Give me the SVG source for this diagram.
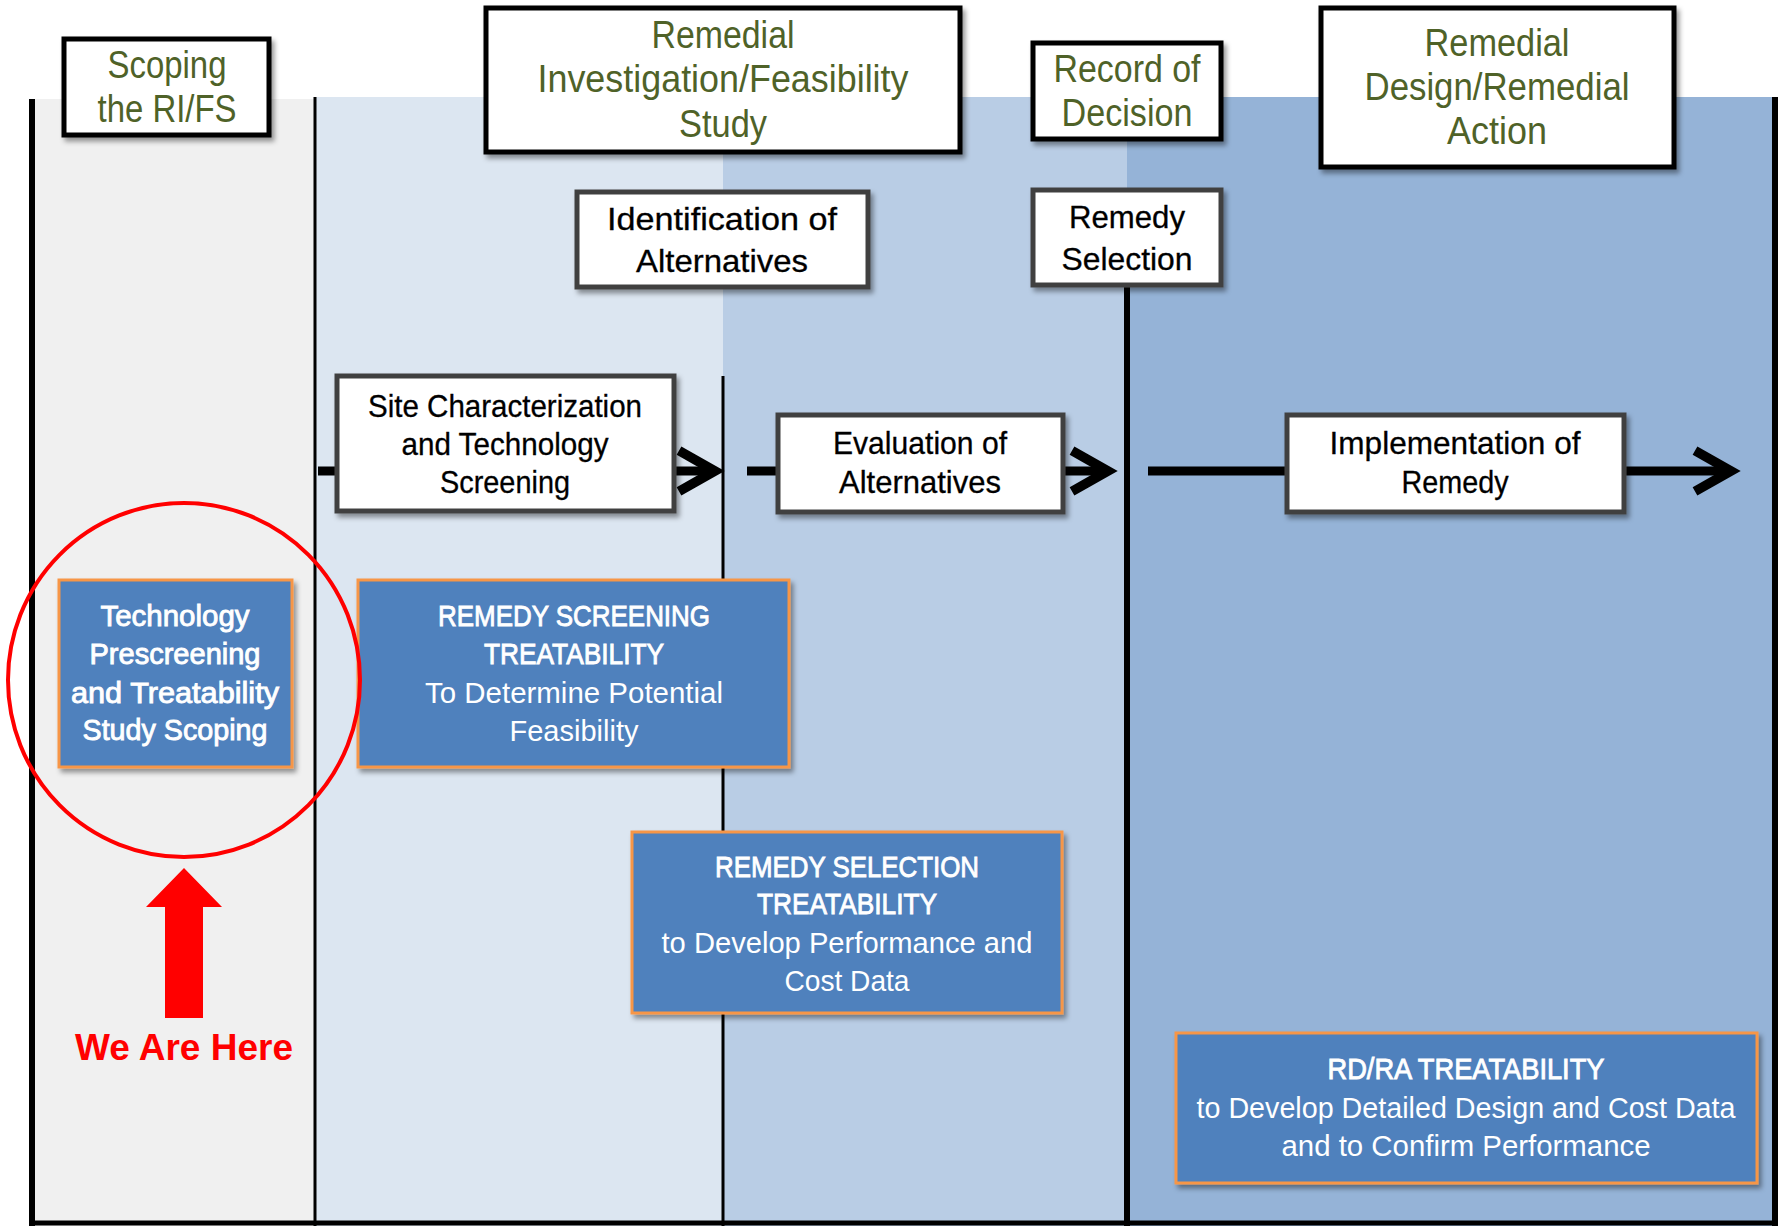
<svg xmlns="http://www.w3.org/2000/svg" width="1785" height="1226" viewBox="0 0 1785 1226">
<defs>
<filter id="sh" x="-10%" y="-10%" width="130%" height="130%">
<feDropShadow dx="3" dy="4" stdDeviation="2.5" flood-color="#000" flood-opacity="0.4"/>
</filter>
<marker id="chev" markerUnits="userSpaceOnUse" markerWidth="60" markerHeight="60" refX="0" refY="0" orient="auto" viewBox="-40 -25 50 50" overflow="visible">
<path d="M -30 -17 L 0 0 L -30 17" fill="none" stroke="#000" stroke-width="8" stroke-linejoin="miter"/>
</marker>
<style>
text{font-family:"Liberation Sans Narrow","Liberation Sans",Arial,sans-serif;text-anchor:middle}
.hdr rect{fill:#fff;stroke:#000;stroke-width:5}
.hdr text{fill:#4f6228;font-size:38px}
.stp rect{fill:#fff;stroke:#404040;stroke-width:5}
.stp text{fill:#000;font-size:32px;stroke:#000;stroke-width:0.3}
.tb rect{fill:#4f81bd;stroke:#f79646;stroke-width:3}
.tb text{fill:#fff;font-size:30px}
.tb .h{stroke:#fff;stroke-width:0.9}
.vl{stroke:#000;fill:none}
.ar{stroke:#000;stroke-width:9;fill:none}
</style>
</defs>

<g id="background">
<rect x="32" y="99" width="283" height="1127" fill="#f0f0f0"/>
<rect x="315" y="97" width="408" height="1129" fill="#dce6f1"/>
<rect x="723" y="97" width="404" height="1129" fill="#b9cde5"/>
<rect x="1127" y="97" width="648" height="1129" fill="#95b3d7"/>
<line class="vl" x1="32" y1="99" x2="32" y2="1226" stroke-width="6"/>
<line class="vl" x1="315" y1="97" x2="315" y2="1226" stroke-width="3"/>
<line class="vl" x1="723" y1="376" x2="723" y2="1226" stroke-width="3"/>
<line class="vl" x1="1127" y1="287" x2="1127" y2="1226" stroke-width="6"/>
<line class="vl" x1="1775" y1="97" x2="1775" y2="1226" stroke-width="6"/>
<line class="vl" x1="29" y1="1223" x2="1778" y2="1223" stroke-width="5"/>
</g>

<g id="connectors">
<line class="ar" x1="318" y1="471" x2="337" y2="471"/>
<line class="ar" x1="676" y1="471" x2="715" y2="471" marker-end="url(#chev)"/>
<line class="ar" x1="747" y1="471" x2="778" y2="471"/>
<line class="ar" x1="1063" y1="471" x2="1108" y2="471" marker-end="url(#chev)"/>
<line class="ar" x1="1148" y1="471" x2="1287" y2="471"/>
<line class="ar" x1="1624" y1="471" x2="1731" y2="471" marker-end="url(#chev)"/>
</g>

<g id="scoping" class="hdr">
<rect x="64" y="39" width="205" height="96" filter="url(#sh)"/>
<text x="167" y="78" textLength="119" lengthAdjust="spacingAndGlyphs">Scoping</text>
<text x="167" y="122" textLength="139" lengthAdjust="spacingAndGlyphs">the RI/FS</text>
</g>

<g id="rifs" class="hdr">
<rect x="486" y="8" width="474" height="144" filter="url(#sh)"/>
<text x="723" y="48" textLength="143" lengthAdjust="spacingAndGlyphs">Remedial</text>
<text x="723" y="92" textLength="371" lengthAdjust="spacingAndGlyphs">Investigation/Feasibility</text>
<text x="723" y="137" textLength="88" lengthAdjust="spacingAndGlyphs">Study</text>
</g>

<g id="rod" class="hdr">
<rect x="1033" y="43" width="188" height="96" filter="url(#sh)"/>
<text x="1127" y="82" textLength="147" lengthAdjust="spacingAndGlyphs">Record of</text>
<text x="1127" y="126" textLength="131" lengthAdjust="spacingAndGlyphs">Decision</text>
</g>

<g id="rdra" class="hdr">
<rect x="1321" y="8" width="353" height="159" filter="url(#sh)"/>
<text x="1497" y="56" textLength="145" lengthAdjust="spacingAndGlyphs">Remedial</text>
<text x="1497" y="100" textLength="265" lengthAdjust="spacingAndGlyphs">Design/Remedial</text>
<text x="1497" y="144" textLength="100" lengthAdjust="spacingAndGlyphs">Action</text>
</g>

<g id="identification" class="stp">
<rect x="577" y="192" width="291" height="95" filter="url(#sh)"/>
<text x="722" y="230" textLength="230" lengthAdjust="spacingAndGlyphs">Identification of</text>
<text x="722" y="272" textLength="172" lengthAdjust="spacingAndGlyphs">Alternatives</text>
</g>

<g id="remedy-selection" class="stp">
<rect x="1033" y="190" width="188" height="95" filter="url(#sh)"/>
<text x="1127" y="228" textLength="116" lengthAdjust="spacingAndGlyphs">Remedy</text>
<text x="1127" y="270" textLength="131" lengthAdjust="spacingAndGlyphs">Selection</text>
</g>

<g id="site" class="stp">
<rect x="337" y="376" width="337" height="135" filter="url(#sh)"/>
<text x="505" y="417" textLength="274" lengthAdjust="spacingAndGlyphs">Site Characterization</text>
<text x="505" y="455" textLength="207" lengthAdjust="spacingAndGlyphs">and Technology</text>
<text x="505" y="493" textLength="130" lengthAdjust="spacingAndGlyphs">Screening</text>
</g>

<g id="evaluation" class="stp">
<rect x="778" y="415" width="285" height="97" filter="url(#sh)"/>
<text x="920" y="454" textLength="174" lengthAdjust="spacingAndGlyphs">Evaluation of</text>
<text x="920" y="493" textLength="162" lengthAdjust="spacingAndGlyphs">Alternatives</text>
</g>

<g id="implementation" class="stp">
<rect x="1287" y="415" width="337" height="97" filter="url(#sh)"/>
<text x="1455" y="454" textLength="251" lengthAdjust="spacingAndGlyphs">Implementation of</text>
<text x="1455" y="493" textLength="107" lengthAdjust="spacingAndGlyphs">Remedy</text>
</g>

<g id="prescreening" class="tb">
<rect x="59" y="580" width="233" height="187" filter="url(#sh)"/>
<text class="h" x="175" y="626" textLength="149" lengthAdjust="spacingAndGlyphs">Technology</text>
<text class="h" x="175" y="664" textLength="171" lengthAdjust="spacingAndGlyphs">Prescreening</text>
<text class="h" x="175" y="703" textLength="208" lengthAdjust="spacingAndGlyphs">and Treatability</text>
<text class="h" x="175" y="740" textLength="185" lengthAdjust="spacingAndGlyphs">Study Scoping</text>
</g>

<g id="remedy-screening" class="tb">
<rect x="358" y="580" width="431" height="187" filter="url(#sh)"/>
<text class="h" x="574" y="626" textLength="272" lengthAdjust="spacingAndGlyphs">REMEDY SCREENING</text>
<text class="h" x="574" y="664" textLength="180" lengthAdjust="spacingAndGlyphs">TREATABILITY</text>
<text x="574" y="703" textLength="298" lengthAdjust="spacingAndGlyphs">To Determine Potential</text>
<text x="574" y="741" textLength="129" lengthAdjust="spacingAndGlyphs">Feasibility</text>
</g>

<g id="remedy-selection-treatability" class="tb">
<rect x="632" y="832" width="430" height="181" filter="url(#sh)"/>
<text class="h" x="847" y="877" textLength="264" lengthAdjust="spacingAndGlyphs">REMEDY SELECTION</text>
<text class="h" x="847" y="914" textLength="180" lengthAdjust="spacingAndGlyphs">TREATABILITY</text>
<text x="847" y="953" textLength="371" lengthAdjust="spacingAndGlyphs">to Develop Performance and</text>
<text x="847" y="991" textLength="125" lengthAdjust="spacingAndGlyphs">Cost Data</text>
</g>

<g id="rdra-treatability" class="tb">
<rect x="1176" y="1033" width="581" height="150" filter="url(#sh)"/>
<text class="h" x="1466" y="1079" textLength="277" lengthAdjust="spacingAndGlyphs">RD/RA TREATABILITY</text>
<text x="1466" y="1118" textLength="539" lengthAdjust="spacingAndGlyphs">to Develop Detailed Design and Cost Data</text>
<text x="1466" y="1156" textLength="369" lengthAdjust="spacingAndGlyphs">and to Confirm Performance</text>
</g>

<g id="we-are-here">
<ellipse cx="184" cy="680" rx="176" ry="177" fill="none" stroke="#ff0000" stroke-width="4"/>
<polygon points="184,868 222,907 203,907 203,1018 165,1018 165,907 146,907" fill="#ff0000"/>
<text x="184" y="1060" fill="#ff0000" font-size="36" font-weight="bold" style="font-family:'Liberation Sans',Arial,sans-serif" textLength="218" lengthAdjust="spacingAndGlyphs">We Are Here</text>
</g>
</svg>
